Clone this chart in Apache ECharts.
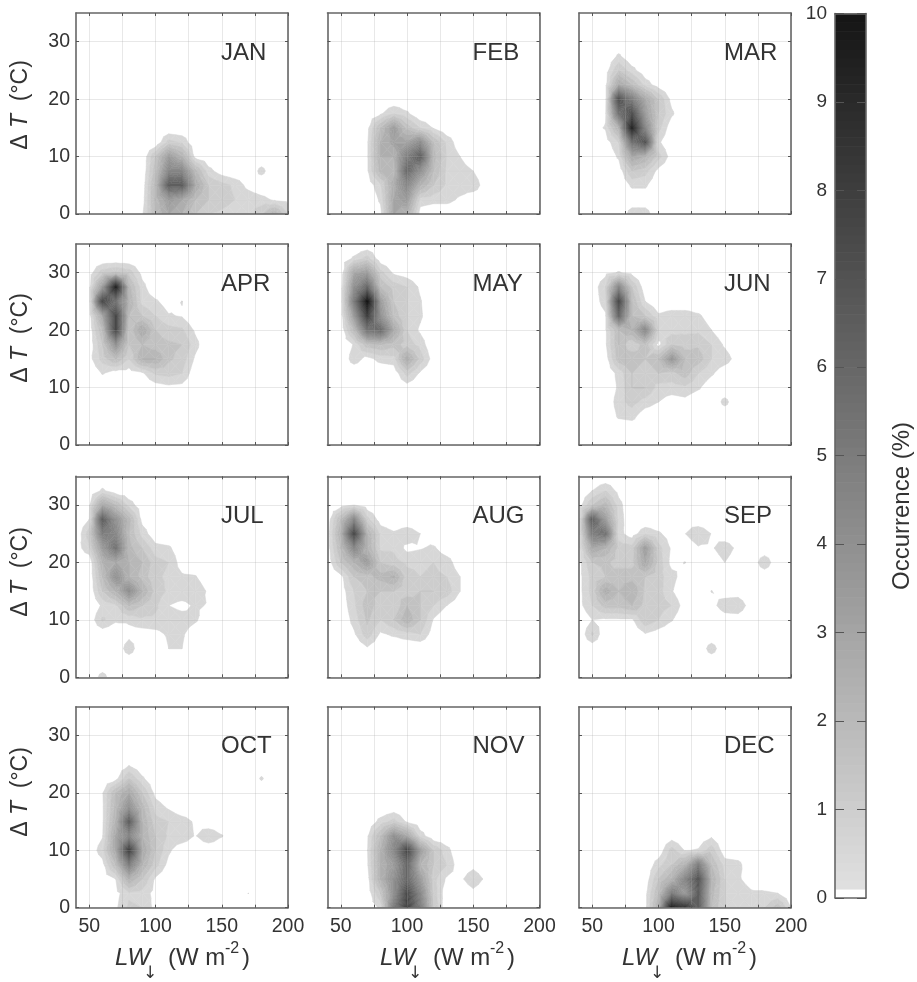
<!DOCTYPE html>
<html><head><meta charset="utf-8">
<style>html,body{margin:0;padding:0;background:#fff}#c{width:917px;height:982px;filter:blur(0.5px)}</style>
<script src="https://cdn.jsdelivr.net/npm/echarts@6/dist/echarts.min.js"></script>
</head><body><div id="c"></div>
<script>
const lwGrid=[40,50,60,70,80,90,100,110,120,130,140,150,160,170,180,190,200];
const dTGrid=[0,2.5,5,7.5,10,12.5,15,17.5,20,22.5,25,27.5,30,32.5,35];
const months=['JAN','FEB','MAR','APR','MAY','JUN','JUL','AUG','SEP','OCT','NOV','DEC'];
const xGridTicks=[50,75,100,125,150,175,200];
const xTickLabels=[50,100,150,200];
const yTicks=[0,10,20,30];
const contourLevels=[0.5,1,1.5,2,2.5,3,3.25,3.5,3.75,4,4.25,4.5,4.75,5,5.25,5.5,5.75,6,6.25,6.5,6.75,7,7.25,7.5,7.75,8,8.25,8.5,8.75,9,9.25,9.5,9.75,10];
// each row: [dT, first LW, occurrence values at consecutive LW bins]
const jan=[[12.5,110,1.2,.9],[10,100,1.5,3.5,2.5,.3],[7.5,100,1.8,4.5,4.5,2.2,.7,.2],[7.5,180,.7],[5,90,.1,2.2,6.5,6.5,3,1.5,1.2,.9,.3],[2.5,90,.2,2.2,3.5,3,2,1.5,1.2,1,.9,.7,.4,.3],[0,90,.4,2,3,2.5,1.5,1,.9,.8,.7,1.4,2.4,1]];
const feb=[[17.5,80,.4,1,.6],[15,70,.3,2,3.5,1.8,1,.45],[12.5,70,.4,2.5,3.2,3.2,4.2,2,.9,.1],[10,70,.4,2.5,2.5,5,6.5,2.2,1,.5],[7.5,70,.4,2.2,2.2,6,4,2,.9,.8,.5],[5,70,.1,.9,2.8,4.5,2.5,1.5,.9,.8,.9,.1],[2.5,80,.6,3,3.5,.8,.7,.7,.4],[0,80,.3,3,2.5,.2]];
const mar=[[27.5,70,.6],[25,60,.2,1.5,.7,.1],[22.5,60,.3,3,2,.8,.2],[20,60,.3,7.2,5,3,1.5,.3],[17.5,60,.4,5.5,7.2,3.5,1.5,.6],[15,50,.3,.55,2.5,9.2,4.5,1.2,.1],[12.5,60,.2,1,5.5,6.8,.6],[10,70,.6,3,2.5,1.2,.2],[7.5,70,.1,1.5,1.2,.3],[5,80,.6,.6],[2.5,80,.1,.1],[0,80,.8,.8]];
const apr=[[30,50,.2,1.3,1.6,1.3,.3],[27.5,50,.3,3.5,9.2,2.2,.7],[25,50,.3,7.5,5.5,2.5,.8,.6,.2,.52],[22.5,50,.2,3,7.5,2,1.5,1,.55,.45],[20,50,.1,2,7.5,1.5,3,1.5,1.2,1.1,.4],[17.5,50,.1,1.5,4,1.5,2,1.7,1.6,1.5,.7],[15,50,.3,1.2,2,1,2.5,2.5,1.6,1.3,.4],[12.5,60,.55,.2,.2,.4,1.1,1.2,1,.1],[10,100,.2,.35,.3]];
const may=[[32.5,60,.6,1.2,.1],[30,60,3,3.5,1.2,.4,.2],[27.5,50,.1,4,6,2,1.3,1,.4],[25,50,.1,5,10,3.5,1.5,1,.55],[22.5,50,.1,3.5,8,4,1.8,1,.6],[20,60,2,5.5,6,3,1,.4],[17.5,60,.55,1.8,2,1.7,1.3,.8],[15,60,.8,.3,.7,.8,2.8,1.3,.2],[12.5,90,.1,1.2,.4],[10,100,.2]];
const jun=[[30,60,.3,.55,.3],[27.5,50,.1,1,4.5,1.5,.1],[25,50,.1,.8,7.5,2,.5],[22.5,60,.4,6,2,1.5,.6,.8,.8,.6,.2],[20,60,.4,2,2.5,4.5,1,.8,.9,.9,.5],[17.5,60,.4,2,1,1.8,.3,1.5,1.2,1.4,1,.4],[15,60,.2,1.8,2,1.5,2,3.8,2,1.8,1,.8,.2],[12.5,70,.7,1.5,1,1.5,1.3,1.8,1,.6,.1],[10,70,.6,1.5,1.5,.8,.8,.9,.6,.1],[7.5,70,.8,1.2,.8,.5,.2,.3],[7.5,150,.7],[5,70,.6,.7,.1]];
const jul=[[32.5,60,.6,.1],[30,50,.4,3,2,.8,.1],[27.5,50,.5,6.5,4,2.2,.3],[25,50,1.3,5,4.5,2,.8,.1],[22.5,40,.2,.9,3.5,5.5,2.2,1.5,.7,.6,.1],[20,60,2.5,3,2.5,2,1.2,1,.2],[17.5,60,2,4,2.5,1.8,1.1,.9,.6,.55,.1],[15,60,1.5,2.5,4.2,2.5,1.3,.9,.9,.9,.4],[12.5,60,.6,.9,2,1.5,1.1,.5,.3,.6,.45],[10,50,.1,1.1,.6,.6,.9,.9,.9,.8,.6,.1],[7.5,60,.1,0,.3,.2,.3,.6,.6,.1],[5,80,.85],[5,110,.5,.5],[0,60,.75]];
const aug=[[30,50,.2,.5,.1],[27.5,40,.1,2,4.5,1.2,.2],[25,40,.2,2.5,7.5,2.5,.9,.6,.9,.5],[22.5,40,.2,2,4.5,2.5,.9,.9,.35,.45,.6,.1],[20,40,.1,1.5,2.5,3.5,1.5,1.2,.9,.9,1,.8,.1],[17.5,50,.3,1.5,1.8,2.2,2.6,1.2,1,1.1,1,.5],[15,50,.2,1,1.5,1.5,1.5,1.2,1.5,1.5,1.3,.5],[12.5,50,.1,.9,1.8,1.2,1,2,1.5,1,.5,.1],[10,60,.7,1.6,1,1.5,2.4,1.5,.45],[7.5,60,.4,1.3,.4,.6,.8,1,.2],[5,70,.4]];
const sep=[[32.5,50,.5,1,.3],[30,40,.2,1.5,2.2,.7],[27.5,40,.3,6.5,3.5,.8,0,0,0,0,.3],[25,40,.3,5,5.5,.7,.2,.9,.6,.2,.48,1,.48],[22.5,40,.3,3,2.5,1.3,1.2,3.5,1.2,.4],[22.5,130,.42,.4,.9,.3],[20,40,.3,1.5,1.6,1.3,1.3,3,1.3,.3,.52],[20,150,.5],[20,180,.95],[17.5,40,.3,1.2,1.5,1.8,1.8,1.5,1.2,.7,.2],[15,40,.3,1.2,2.8,2,2.5,1.4,1.2,.55],[15,140,.52,.2,.2],[12.5,40,.3,1,1.7,1.7,2,1.3,1.2,1,.2],[12.5,140,.3,.8,.9,.2],[10,50,.5,.4,.4,.4,1.4,1,.55],[10,150,.2,.2],[7.5,50,1.1],[7.5,90,.45,.2],[5,50,.1],[5,140,.8]];
const oct=[[25,80,.4],[22.5,70,.3,1.5,.6],[22.5,180,.58],[20,60,.45,2,3,1.5,.3],[17.5,60,.4,2.2,4,2.2,.8,.4],[15,60,.4,2.5,6.5,2.5,1.2,1,.8,.4],[12.5,60,.45,3,4.5,2.5,1.5,.9,.9,.45,1,.55],[10,50,.1,.8,3,8,3,1.5,.6,.1],[7.5,60,.3,2,5,2.5,1.2,.3],[5,60,.1,.5,2.5,1.5,.4],[2.5,70,.3,.9,.8,.3],[2.5,170,.51],[0,70,.4,1.1,1,.3]];
const nov=[[17.5,90,.1],[15,80,.7,1.2,.4],[12.5,70,.4,2,4,3,.8],[10,70,.45,2.5,4.5,7.8,3.5,1.5,.7],[7.5,70,.4,2.5,3.5,6,2.5,1.5,1,.1,.3],[5,70,.2,2.5,4,6,3.5,1.2,.4,.35,.9,.35],[2.5,70,.1,1.5,4,7.5,4.5,1.3,.1],[2.5,150,.3],[0,70,.1,.6,5,8,5,1.5]];
const dec=[[12.5,110,.2],[12.5,130,.1,.4],[10,100,.1,1.2,.45,.55,1.3,.1],[7.5,100,.8,1.5,2.5,5,2,.8,.7],[5,90,.1,1.5,2.5,4.5,7,2.5,1,.6,.2],[2.5,90,.3,2,5,3.5,6.5,2.2,1,.9,.6,.6,.5],[0,90,.3,2.5,9.5,8.5,6.5,2,1,.9,.8,1,1.8,.5]];
const monthData=[jan,feb,mar,apr,may,jun,jul,aug,sep,oct,nov,dec];
const colorbarFloor=0.1, colorbarTop=10, colorbarStep=0.1;
const colorbarTicks=[0,1,2,3,4,5,6,7,8,9,10];

const FONT='"Liberation Sans",Arial,sans-serif', TXT='#333333', FRAME='#666666';
const colLeft=[76,327.5,579], rowTop=[13,244,476.3,706.7], PW=212, PH=201;
const xLabelLeft=[115,380,622], yLabelCenter=[105,338,572,792];

function gray(v){const g=Math.max(18,Math.round(225-20.5*v));return 'rgb('+g+','+g+','+g+')';}
function expand(rows){
  const m=dTGrid.map(()=>lwGrid.map(()=>0));
  rows.forEach(r=>{const j=dTGrid.indexOf(r[0]),i0=lwGrid.indexOf(r[1]);r.slice(2).forEach((v,k)=>{m[j][i0+k]=v;});});
  return m;
}
function cellsOf(rows){
  const m=expand(rows),out=[];
  for(let j=0;j<dTGrid.length-1;j++)for(let i=0;i<lwGrid.length-1;i++){
    const a=m[j][i],b=m[j][i+1],c=m[j+1][i+1],d=m[j+1][i];
    if(Math.max(a,b,c,d)>=contourLevels[0])out.push([lwGrid[i],dTGrid[j],lwGrid[i+1],dTGrid[j+1],a,b,c,d]);
  }
  return out;
}
function clip(poly,level,keepAbove){
  const out=[];
  for(let i=0;i<poly.length;i++){
    const p=poly[i],q=poly[(i+1)%poly.length];
    const pin=keepAbove?p[2]>=level:p[2]<=level, qin=keepAbove?q[2]>=level:q[2]<=level;
    if(pin)out.push(p);
    if(pin!==qin){const t=(level-p[2])/(q[2]-p[2]);out.push([p[0]+t*(q[0]-p[0]),p[1]+t*(q[1]-p[1]),level]);}
  }
  return out;
}
function renderCell(params,api){
  const x0=api.value(0),y0=api.value(1),x1=api.value(2),y1=api.value(3);
  const a=api.value(4),b=api.value(5),c=api.value(6),d=api.value(7);
  const cm=(a+b+c+d)/4;
  const P=[[x0,y0,a],[x1,y0,b],[x1,y1,c],[x0,y1,d]],C=[(x0+x1)/2,(y0+y1)/2,cm];
  const children=[];
  for(let t=0;t<4;t++){
    const tri=[P[t],P[(t+1)%4],C];
    contourLevels.forEach((lv,k)=>{
      let poly=clip(tri,lv,true);
      if(poly.length<3)return;
      const hi=contourLevels[k+1];
      if(hi!==undefined)poly=clip(poly,hi,false);
      if(poly.length<3)return;
      const col=gray(lv);
      children.push({type:'polygon',silent:true,shape:{points:poly.map(p=>api.coord([p[0],p[1]]))},
        style:{fill:col,stroke:col,lineWidth:0.5}});
    });
  }
  return {type:'group',children};
}
function renderBar(params,api){
  const lo=api.coord([0,api.value(0)]),hi=api.coord([1,api.value(1)]);
  return {type:'rect',silent:true,shape:{x:lo[0],y:hi[1],width:hi[0]-lo[0],height:lo[1]-hi[1]+0.6},
    style:{fill:gray(api.value(0))}};
}

const grids=[],xAxes=[],yAxes=[],series=[],graphics=[];
const axLine={show:true,onZero:false,lineStyle:{color:FRAME,width:1.6}};
const tick=(vals,len)=>({show:true,inside:true,length:len||3,customValues:vals,lineStyle:{color:'#555555',width:1}});
const gridStyle={show:true,lineStyle:{color:'rgba(170,170,170,0.27)',width:1}};
months.forEach((name,idx)=>{
  const r=Math.floor(idx/3),c=idx%3;
  grids.push({left:colLeft[c],top:rowTop[r],width:PW,height:PH,containLabel:false});
  const gi=idx, base=xAxes.length;
  xAxes.push({gridIndex:gi,type:'value',min:40,max:200,position:'bottom',z:5,axisLine:axLine,
    axisTick:tick(xGridTicks),splitLine:gridStyle,
    axisLabel:{show:r===3,customValues:xTickLabels,fontFamily:FONT,fontSize:19.5,color:TXT,margin:9,hideOverlap:false}});
  xAxes.push({gridIndex:gi,type:'value',min:40,max:200,position:'top',z:5,axisLine:axLine,
    axisTick:tick(xGridTicks),splitLine:{show:false},axisLabel:{show:false}});
  yAxes.push({gridIndex:gi,type:'value',min:0,max:35,position:'left',z:5,axisLine:axLine,
    axisTick:tick(yTicks),splitLine:Object.assign({},gridStyle),
    axisLabel:{show:c===0,customValues:yTicks,fontFamily:FONT,fontSize:19.5,color:TXT,margin:6}});
  yAxes.push({gridIndex:gi,type:'value',min:0,max:35,position:'right',z:5,axisLine:axLine,
    axisTick:tick(yTicks),splitLine:{show:false},axisLabel:{show:false}});
  series.push({type:'custom',xAxisIndex:base,yAxisIndex:base,coordinateSystem:'cartesian2d',z:2,clip:true,silent:true,
    animation:false,renderItem:renderCell,encode:{x:[0,2],y:[1,3]},data:cellsOf(monthData[idx])});
  graphics.push({type:'text',z:20,x:colLeft[c]+145,y:rowTop[r]+40,
    style:{text:name,fontFamily:FONT,fontSize:24,fill:TXT,align:'left',verticalAlign:'middle'}});
});
// y axis titles
yLabelCenter.forEach(cy=>{
  graphics.push({type:'text',z:20,x:21,y:cy,rotation:Math.PI/2,style:{
    text:'{u|Δ }{t|T}{u|  (°C)}',align:'center',verticalAlign:'middle',
    rich:{u:{fontFamily:FONT,fontSize:23,fill:TXT},t:{fontFamily:FONT,fontSize:23,fontStyle:'italic',fill:TXT}}}});
});
// x axis titles
xLabelLeft.forEach(x=>{
  const base={fontFamily:FONT,fontSize:24,fill:TXT,verticalAlign:'middle',align:'left'};
  graphics.push({type:'text',z:20,x:x,y:958,style:Object.assign({},base,{text:'LW',fontStyle:'italic'})});
  graphics.push({type:'text',z:20,x:x+35,y:974,style:{text:'↓',fontFamily:'"DejaVu Sans"',fontSize:17,fill:TXT,verticalAlign:'middle',align:'center'}});
  graphics.push({type:'text',z:20,x:x+53,y:958,style:Object.assign({},base,{text:'(W m'})});
  graphics.push({type:'text',z:20,x:x+110,y:949,style:Object.assign({},base,{text:'-2',fontSize:16})});
  graphics.push({type:'text',z:20,x:x+127,y:958,style:Object.assign({},base,{text:')'})});
});
// colour bar
const barIdx=grids.length, barAxis=xAxes.length;
grids.push({left:835,top:13.5,width:31,height:884.3});
xAxes.push({gridIndex:barIdx,type:'value',min:0,max:1,show:false});
yAxes.push({gridIndex:barIdx,type:'value',min:0,max:10,interval:1,position:'left',z:5,axisLine:axLine,
  axisTick:{show:true,inside:true,length:9,lineStyle:{color:'#555555',width:1}},splitLine:{show:false},
  axisLabel:{fontFamily:FONT,fontSize:19,color:TXT,margin:8,customValues:colorbarTicks}});
xAxes.push({gridIndex:barIdx,type:'value',min:0,max:1,position:'bottom',z:5,axisLine:axLine,axisTick:{show:false},axisLabel:{show:false},splitLine:{show:false}});
xAxes.push({gridIndex:barIdx,type:'value',min:0,max:1,position:'top',z:5,axisLine:axLine,axisTick:{show:false},axisLabel:{show:false},splitLine:{show:false}});
yAxes.push({gridIndex:barIdx,type:'value',min:0,max:10,interval:1,position:'right',z:5,axisLine:axLine,
  axisTick:{show:true,inside:true,length:9,lineStyle:{color:'#555555',width:1}},splitLine:{show:false},axisLabel:{show:false}});
const barData=[];
for(let v=colorbarFloor;v<colorbarTop-1e-6;v+=colorbarStep)barData.push([+v.toFixed(2),+(v+colorbarStep).toFixed(2)]);
series.push({type:'custom',xAxisIndex:barAxis,yAxisIndex:yAxes.length-2,coordinateSystem:'cartesian2d',z:2,silent:true,animation:false,
  renderItem:renderBar,encode:{y:[0,1]},data:barData});
graphics.push({type:'text',z:20,x:902,y:506,rotation:Math.PI/2,style:{text:'Occurrence (%)',fontFamily:FONT,fontSize:24,fill:TXT,align:'center',verticalAlign:'middle'}});

const chart=echarts.init(document.getElementById('c'),null,{renderer:'canvas'});
chart.setOption({backgroundColor:'#ffffff',animation:false,grid:grids,xAxis:xAxes,yAxis:yAxes,series:series,graphic:{elements:graphics}});
</script></body></html>
